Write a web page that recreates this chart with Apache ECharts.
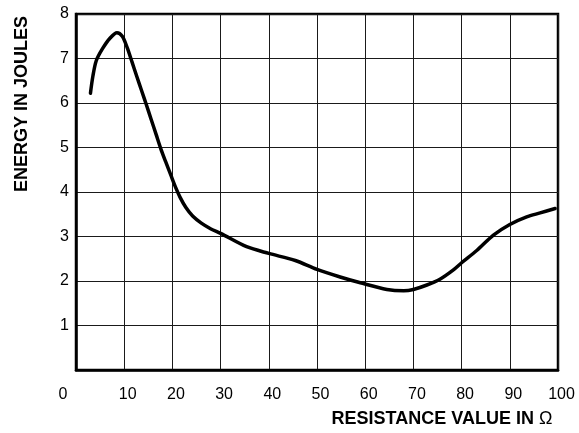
<!DOCTYPE html>
<html>
<head>
<meta charset="utf-8">
<script src="https://cdn.jsdelivr.net/npm/echarts@6/dist/echarts.min.js"></script>
<style>
html,body{margin:0;padding:0;background:#fff;}
#c{width:579px;height:433px;}
</style>
</head>
<body>
<div id="c"></div>
<script>
// Resistance (ohm) and energy (joules)
var resistance = [3, 3.5, 4.2, 5.5, 7, 8.5, 9.6, 10.6, 11.6, 12.6, 13.6, 14.6, 15.6, 16.6, 17.6, 18.6, 19.6, 20.6, 21.6, 22.8, 24.2, 26, 28, 30, 35.4, 40, 45.5, 50, 54.8, 59, 64.5, 68, 70, 72.8, 75.5, 78.3, 80, 83.2, 86.6, 90, 93.5, 96.3, 99.4];
var energy = [6.22, 6.6, 6.95, 7.22, 7.45, 7.58, 7.5, 7.25, 6.93, 6.6, 6.28, 5.96, 5.63, 5.3, 4.97, 4.68, 4.4, 4.12, 3.88, 3.65, 3.46, 3.3, 3.17, 3.07, 2.77, 2.62, 2.46, 2.26, 2.09, 1.96, 1.81, 1.78, 1.81, 1.91, 2.04, 2.25, 2.41, 2.69, 3.03, 3.27, 3.44, 3.53, 3.63];
var xTicks = ['0','10','20','30','40','50','60','70','80','90','100'];
var yTicks = ['', '1','2','3','4','5','6','7','8'];
var xName = 'RESISTANCE VALUE IN ';
var xUnit = 'Ω';
var yName = 'ENERGY IN JOULES';

var pts = resistance.map(function (r, i) { return [r, energy[i]]; });
var FONT = '"Liberation Sans", Arial, Helvetica, sans-serif';

var chart = echarts.init(document.getElementById('c'), null, {renderer: 'canvas'});
chart.setOption({
  animation: false,
  backgroundColor: '#fff',
  grid: {
    left: 76, top: 14, right: 21, bottom: 63,
    show: true, borderColor: '#000', borderWidth: 2.5,
    containLabel: false, outerBoundsMode: 'none'
  },
  xAxis: {
    type: 'value', min: 0, max: 100, interval: 10,
    axisLine: {show: true, lineStyle: {color: '#000', width: 2.5}},
    axisTick: {show: false},
    splitLine: {show: true, lineStyle: {color: '#1a1a1a', width: 1}},
    axisLabel: {
      margin: 17, color: '#000', fontSize: 16, fontFamily: FONT,
      formatter: function (v) {
        var i = Math.round(v / 10);
        return i === 0 ? '{z|' + xTicks[i] + '}' : '{n|' + xTicks[i] + '}';
      },
      rich: {
        z: {fontSize: 16, fontFamily: FONT, color: '#000', padding: [0, 26, 0, 0]},
        n: {fontSize: 16, fontFamily: FONT, color: '#000', padding: [0, 0, 0, 7]}
      }
    },
    name: '{b|' + xName + '}{o|' + xUnit + '}',
    nameLocation: 'middle', nameGap: 40, nameMoveOverlap: false,
    nameTextStyle: {
      padding: [0, 0, 0, 250],
      rich: {
        b: {fontSize: 18, fontWeight: 'bold', fontFamily: FONT, color: '#000'},
        o: {fontSize: 18, fontWeight: 'normal', fontFamily: FONT, color: '#000'}
      }
    }
  },
  yAxis: {
    type: 'value', min: 0, max: 8, interval: 1,
    axisLine: {show: true, lineStyle: {color: '#000', width: 2.5}},
    axisTick: {show: false},
    splitLine: {show: true, lineStyle: {color: '#1a1a1a', width: 1}},
    axisLabel: {
      margin: 7, color: '#000', fontSize: 16, fontFamily: FONT,
      formatter: function (v) { return yTicks[Math.round(v)]; }
    },
    name: yName,
    nameLocation: 'middle', nameGap: 45, nameRotate: 90, nameMoveOverlap: false,
    nameTextStyle: {
      fontSize: 18, fontWeight: 'bold', fontFamily: FONT, color: '#000',
      padding: [0, 0, 0, 176]
    }
  },
  series: [{
    type: 'line',
    data: pts,
    smooth: 0.3,
    showSymbol: false,
    lineStyle: {color: '#000', width: 3.5, cap: 'round', join: 'round'},
    itemStyle: {color: '#000'},
    z: 5
  }]
});
</script>
</body>
</html>
